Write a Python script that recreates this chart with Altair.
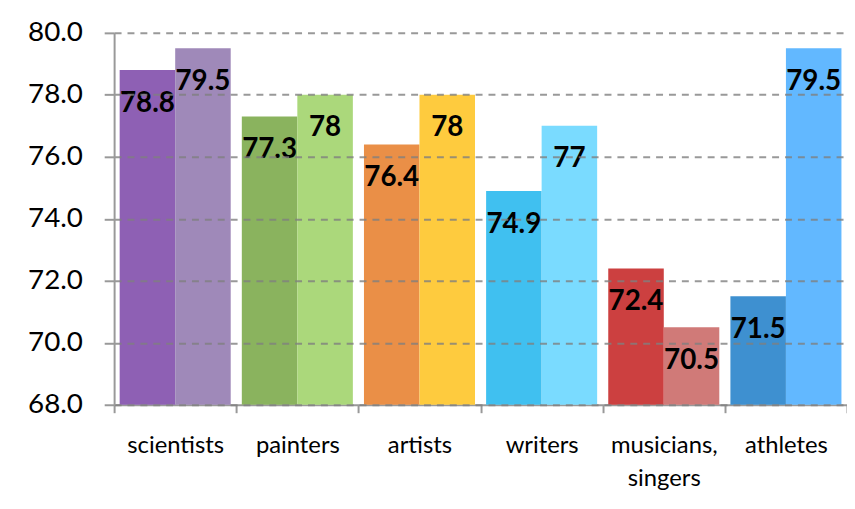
import altair as alt
import pandas as pd

categories = ["scientists", "painters", "artists", "writers", "musicians,\nsingers", "athletes"]
series = ["a", "b"]
values_a = [78.8, 77.3, 76.4, 74.9, 72.4, 71.5]
values_b = [79.5, 78.0, 78.0, 77.0, 70.5, 79.5]
colors_a = ["#8E60B4", "#8AB35E", "#EA8F47", "#40C0F0", "#CC4040", "#3E90D0"]
colors_b = ["#9F89B9", "#ABD87B", "#FECB3E", "#7ADBFF", "#D07A78", "#62B8FF"]
y_ticks = [68, 70, 72, 74, 76, 78, 80]

rows = []
for i, c in enumerate(categories):
    rows.append({"cat": c, "s": "a", "value": values_a[i], "color": colors_a[i], "base": 68})
    rows.append({"cat": c, "s": "b", "value": values_b[i], "color": colors_b[i], "base": 68})
df = pd.DataFrame(rows)

FONT = "Lato"

x_enc = alt.X(
    "cat:N",
    sort=categories,
    title=None,
    scale=alt.Scale(paddingInner=0, paddingOuter=0),
    axis=alt.Axis(
        tickBand="extent",
        labelAngle=0,
        labelFont=FONT,
        labelFontSize=24,
        labelColor="#000000",
        labelPadding=21,
        labelLineHeight=33,
        labelExpr="split(datum.label, '\\n')",
        tickSize=8,
        tickWidth=2,
        tickColor="#999999",
        domainColor="#999999",
        domainWidth=2,
        grid=False,
    ),
)
xoff = alt.XOffset("s:N", sort=series, scale=alt.Scale(paddingOuter=0.1, paddingInner=0))
y_scale = alt.Scale(domain=[68, 80], zero=False, nice=False)

bars = alt.Chart(df).mark_bar().encode(
    x=x_enc,
    xOffset=xoff,
    y=alt.Y(
        "value:Q",
        scale=y_scale,
        title=None,
        axis=alt.Axis(
            values=y_ticks,
            format=".1f",
            labelFont=FONT,
            labelFontSize=28,
            labelColor="#000000",
            labelPadding=22,
            tickSize=10,
            tickWidth=2,
            tickColor="#999999",
            domainColor="#999999",
            domainWidth=2,
            grid=True,
            gridColor="#808080",
            gridOpacity=0.8,
            gridWidth=2,
            gridDash=[7, 6],
            zindex=1,
        ),
    ),
    y2="base:Q",
    color=alt.Color("color:N", scale=None, legend=None),
)

labels = alt.Chart(df).mark_text(
    font=FONT,
    fontSize=28,
    fontWeight="bold",
    color="#000000",
    baseline="middle",
    align="center",
    dy=34,
).encode(
    x=alt.X("cat:N", sort=categories),
    xOffset=xoff,
    y=alt.Y("value:Q", scale=y_scale),
    text=alt.Text("value:Q"),
)

chart = (
    alt.layer(bars, labels)
    .properties(
        width=739,
        height=375,
        autosize=alt.AutoSizeParams(type="none"),
        padding={"left": 107, "top": 23, "right": 0, "bottom": 98},
    )
    .configure_view(stroke=None)
)

chart.save("out.html", embed_options={"renderer": "svg", "actions": False})
